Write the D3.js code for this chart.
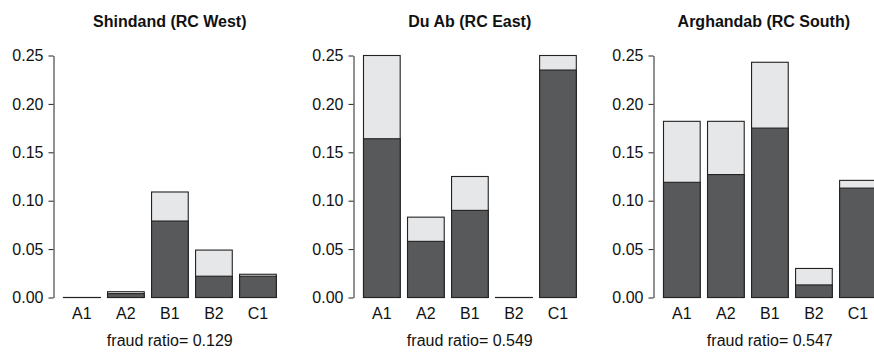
<!DOCTYPE html>
<html lang="en">
<head>
    <meta charset="UTF-8">
    <title>Fraud ratio by district</title>
    <script src="https://d3js.org/d3.v7.min.js"></script>
</head>
<body>
    <div id="svg-container"></div>
</body>
<style>
    *{
        padding: 0;
        margin: 0;
    }
    body{
        background: white;
    }
    svg text{
        font-family: "Liberation Sans", Arial, sans-serif;
        font-size: 16px;
        fill: #111;
    }
</style>
<script>
    // values
    let categories = ["A1", "A2", "B1", "B2", "C1"];
    let titles = ["Shindand (RC West)", "Du Ab (RC East)", "Arghandab (RC South)"];
    let fraudLabels = ["fraud ratio= 0.129", "fraud ratio= 0.549", "fraud ratio= 0.547"];
    let yTicks = [0, 0.05, 0.10, 0.15, 0.20, 0.25];

    // total height of each bar
    let shindandTotal  = [0.000, 0.006, 0.109, 0.049, 0.024];
    let duAbTotal      = [0.250, 0.083, 0.125, 0.000, 0.250];
    let arghandabTotal = [0.182, 0.182, 0.243, 0.030, 0.121];

    // dark (fraud) part of each bar
    let shindandFraud  = [0.000, 0.004, 0.079, 0.022, 0.022];
    let duAbFraud      = [0.164, 0.058, 0.090, 0.000, 0.235];
    let arghandabFraud = [0.119, 0.127, 0.175, 0.013, 0.113];

    let totals = [shindandTotal, duAbTotal, arghandabTotal];
    let frauds = [shindandFraud, duAbFraud, arghandabFraud];

    var w = 874;
    var h = 352;

    var svg = d3.select('#svg-container')
        .append('svg')
        .attr('width', w)
        .attr('height', h);

    let yScale = d3.scaleLinear()
        .domain([0, 0.25])
        .range([297.5, 55.5]);

    let panelWidth = 300;

    titles.forEach((title, p) => {
        let ox = p * panelWidth;

        let xScale = d3.scaleBand()
            .domain(categories)
            .range([ox + 63.5, ox + 276.3])
            .paddingInner(1 / 6)
            .paddingOuter(0);

        let g = svg.append('g');

        // y axis
        let yAxis = d3.axisLeft(yScale)
            .tickValues(yTicks)
            .tickFormat(d3.format('.2f'))
            .tickSize(5)
            .tickSizeOuter(0)
            .tickPadding(5);

        let ax = g.append('g')
            .attr('transform', `translate(${ox + 53.5},0)`)
            .call(yAxis);
        ax.selectAll('path, line').attr('stroke', '#222').attr('stroke-width', 1);
        ax.selectAll('text')
            .style('font-size', '16px')
            .attr('fill', '#111');

        let rows = categories.map((c, i) => ({
            cat: c,
            total: totals[p][i],
            fraud: frauds[p][i]
        }));

        // light full bar
        g.selectAll('rect.total')
            .data(rows)
            .enter()
            .append('rect')
            .attr('class', 'total')
            .attr('x', d => xScale(d.cat))
            .attr('width', xScale.bandwidth())
            .attr('y', d => yScale(d.total))
            .attr('height', d => Math.max(yScale(0) - yScale(d.total), 0.01))
            .attr('fill', '#e6e7e9')
            .attr('stroke', '#222')
            .attr('stroke-width', 1.1);

        // dark fraud part
        g.selectAll('rect.fraud')
            .data(rows)
            .enter()
            .append('rect')
            .attr('class', 'fraud')
            .attr('x', d => xScale(d.cat))
            .attr('width', xScale.bandwidth())
            .attr('y', d => yScale(d.fraud))
            .attr('height', d => Math.max(yScale(0) - yScale(d.fraud), 0.01))
            .attr('fill', '#58595b')
            .attr('stroke', '#222')
            .attr('stroke-width', 1.1);

        // category labels
        g.selectAll('text.cat')
            .data(categories)
            .enter()
            .append('text')
            .attr('class', 'cat')
            .attr('x', d => xScale(d) + xScale.bandwidth() / 2)
            .attr('y', 319)
            .attr('text-anchor', 'middle')
            .text(d => d);

        let cx = ox + 169.8;
        // the last title sits a little left of its panel centre
        let titleShift = p == 2 ? -6 : 0;

        g.append('text')
            .attr('x', cx + titleShift)
            .attr('y', 27)
            .attr('text-anchor', 'middle')
            .style('font-weight', 'bold')
            .text(title);

        g.append('text')
            .attr('x', cx)
            .attr('y', 346)
            .attr('text-anchor', 'middle')
            .text(fraudLabels[p]);
    });
</script>
</html>
